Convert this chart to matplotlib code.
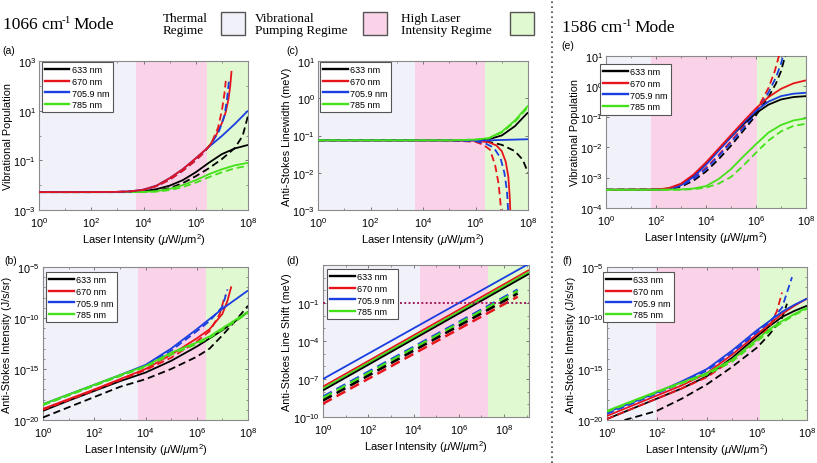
import numpy as np
import matplotlib
matplotlib.use("Agg")
import matplotlib.pyplot as plt
from matplotlib.patches import Rectangle
from matplotlib.lines import Line2D
from matplotlib.ticker import FixedLocator, NullFormatter, LogFormatterSciNotation

plt.rcParams['font.family'] = ['Liberation Sans', 'DejaVu Sans']
plt.rcParams['mathtext.fontset'] = 'custom'
plt.rcParams['mathtext.rm'] = 'Liberation Sans'
plt.rcParams['mathtext.it'] = 'Liberation Sans:italic'
plt.rcParams['mathtext.bf'] = 'Liberation Sans:bold'

# ---------------- data (log10 values) ----------------
WAVELENGTHS = ['633 nm', '670 nm', '705.9 nm', '785 nm']

# (a) vibrational population, 1066 mode
A_X = [0, 2, 3, 3.5, 4, 4.5, 5, 5.5, 6, 6.5, 7, 7.5, 8]
A_633 = [-2.28, -2.28, -2.28, -2.27, -2.24, -2.16, -2.02, -1.8, -1.48, -1.1, -0.75, -0.52, -0.38]
A_633_DX = [0, 2, 3, 3.5, 4, 4.5, 5, 5.5, 6, 6.5, 7, 7.5, 7.8, 8]
A_633_D = [-2.28, -2.28, -2.28, -2.28, -2.27, -2.22, -2.12, -1.92, -1.64, -1.32, -0.95, -0.5, 0.0, 0.8]
A_670_X = [0, 2, 3, 3.5, 4, 4.5, 5, 5.5, 6, 6.5, 6.75, 7.0, 7.15, 7.25, 7.32, 7.37]
A_670 = [-2.28, -2.28, -2.27, -2.25, -2.18, -2.02, -1.72, -1.36, -0.92, -0.45, -0.05, 0.5, 0.95, 1.45, 2.0, 2.6]
A_670_DX = [0, 2, 3, 3.5, 4, 4.5, 5, 5.5, 6, 6.3, 6.6, 6.85, 7.0, 7.1, 7.15]
A_670_D = [-2.28, -2.28, -2.27, -2.25, -2.19, -2.04, -1.78, -1.42, -1.0, -0.7, -0.3, 0.3, 1.0, 1.7, 2.2]
A_706 = [-2.28, -2.28, -2.27, -2.25, -2.18, -2.02, -1.72, -1.36, -0.92, -0.46, -0.02, 0.47, 1.0]
A_706_DX = [0, 2, 3, 3.5, 4, 4.5, 5, 5.5, 6, 6.3, 6.6, 6.9, 7.1, 7.2, 7.27]
A_706_D = [-2.28, -2.28, -2.27, -2.25, -2.19, -2.04, -1.78, -1.42, -1.0, -0.7, -0.32, 0.2, 0.8, 1.5, 2.2]
A_785 = [-2.28, -2.28, -2.28, -2.28, -2.27, -2.24, -2.15, -2.0, -1.8, -1.56, -1.36, -1.2, -1.1]
A_785_D = [-2.28, -2.28, -2.28, -2.28, -2.28, -2.26, -2.2, -2.08, -1.9, -1.68, -1.48, -1.32, -1.22]

# (c) anti-Stokes linewidth
C_X = [0, 5, 5.5, 6, 6.5, 7, 7.5, 8]
C_633 = [-1.13, -1.13, -1.13, -1.12, -1.1, -1.0, -0.75, -0.38]
C_633_DX = [0, 5, 6, 6.5, 7, 7.5, 7.8, 8]
C_633_D = [-1.13, -1.13, -1.14, -1.17, -1.25, -1.42, -1.65, -2.0]
C_670_X = [0, 5, 6, 6.5, 6.8, 7.0, 7.15, 7.25, 7.3, 7.33]
C_670 = [-1.13, -1.13, -1.14, -1.18, -1.27, -1.42, -1.7, -2.1, -2.6, -3.1]
C_670_DX = [0, 5, 6, 6.3, 6.55, 6.75, 6.88, 6.95, 6.98]
C_670_D = [-1.13, -1.13, -1.17, -1.25, -1.38, -1.8, -2.3, -2.8, -3.1]
C_706 = [-1.13, -1.13, -1.13, -1.13, -1.13, -1.12, -1.11, -1.1]
C_706_DX = [0, 5, 6, 6.4, 6.7, 6.95, 7.1, 7.2, 7.25]
C_706_D = [-1.13, -1.13, -1.15, -1.22, -1.33, -1.6, -2.0, -2.5, -3.1]
C_785 = [-1.13, -1.13, -1.12, -1.11, -1.07, -0.9, -0.6, -0.2]
C_785_D = [-1.13, -1.13, -1.12, -1.11, -1.08, -0.92, -0.63, -0.24]

# (e) vibrational population, 1586 mode
E_X = [0, 2, 2.5, 3, 3.5, 4, 4.5, 5, 5.5, 6, 6.5, 7, 7.5, 8]
E_633 = [-3.40, -3.40, -3.36, -3.22, -2.94, -2.54, -2.10, -1.66, -1.24, -0.88, -0.60, -0.43, -0.35, -0.32]
E_670 = [-3.40, -3.39, -3.35, -3.20, -2.90, -2.50, -2.05, -1.60, -1.15, -0.72, -0.35, -0.08, 0.10, 0.20]
E_706 = [-3.40, -3.40, -3.37, -3.25, -2.98, -2.58, -2.12, -1.66, -1.20, -0.80, -0.50, -0.32, -0.24, -0.21]
E_633_DX = [0, 2, 2.5, 3, 3.5, 4, 4.5, 5, 5.5, 6, 6.5, 6.8, 7.0, 7.2]
E_633_D = [-3.40, -3.40, -3.38, -3.30, -3.10, -2.80, -2.40, -1.95, -1.45, -0.95, -0.35, 0.10, 0.50, 1.10]
E_670_DX = [0, 2, 2.5, 3, 3.5, 4, 4.5, 5, 5.5, 6, 6.5, 6.75, 6.95]
E_670_D = [-3.40, -3.39, -3.36, -3.25, -3.02, -2.68, -2.26, -1.80, -1.32, -0.82, -0.05, 0.50, 1.10]
E_706_DX = [0, 2, 2.5, 3, 3.5, 4, 4.5, 5, 5.5, 6, 6.5, 6.8, 7.0, 7.1]
E_706_D = [-3.40, -3.39, -3.37, -3.27, -3.05, -2.72, -2.30, -1.85, -1.37, -0.88, -0.20, 0.30, 0.75, 1.05]
E_X2 = [0, 2, 3, 3.5, 4, 4.5, 5, 5.5, 6, 6.5, 7, 7.5, 8]
E_785 = [-3.40, -3.40, -3.39, -3.36, -3.28, -3.05, -2.72, -2.30, -1.90, -1.52, -1.27, -1.12, -1.05]
E_785_D = [-3.40, -3.40, -3.40, -3.38, -3.33, -3.20, -2.98, -2.60, -2.18, -1.78, -1.48, -1.30, -1.23]

# (b) anti-Stokes intensity, 1066 mode
B_X = [0, 1, 2, 3, 4, 5, 6, 6.5, 7, 7.5, 8]
B_633 = [-19.1, -18.1, -17.15, -16.2, -15.35, -14.2, -12.8, -12.0, -11.2, -10.3, -9.4]
B_633_D = [-19.75, -18.75, -17.75, -16.75, -16.0, -15.0, -13.8, -13.0, -11.7, -10.3, -8.8]
B_670_X = [0, 1, 2, 3, 4, 5, 6, 6.5, 7, 7.2, 7.35]
B_670 = [-18.9, -17.95, -17.0, -16.0, -15.0, -13.6, -12.0, -11.1, -9.6, -8.3, -6.9]
B_670_DX = [0, 1, 2, 3, 4, 5, 6, 6.5, 6.9, 7.1]
B_670_D = [-19.0, -18.05, -17.1, -16.1, -15.1, -13.9, -12.3, -11.3, -9.6, -7.8]
B_706 = [-18.45, -17.5, -16.55, -15.6, -14.6, -13.0, -11.1, -10.1, -9.1, -8.2, -7.3]
B_706_DX = [0, 1, 2, 3, 4, 5, 6, 6.5, 7, 7.2]
B_706_D = [-18.5, -17.55, -16.6, -15.65, -14.7, -13.2, -11.3, -10.3, -8.9, -7.2]
B_785 = [-18.45, -17.5, -16.55, -15.6, -14.7, -13.4, -12.4, -11.8, -11.0, -10.2, -9.4]
B_785_D = [-18.55, -17.6, -16.65, -15.7, -14.8, -13.6, -12.55, -11.95, -11.15, -10.35, -9.5]

# (d) anti-Stokes line shift
D_X = [0, 9.1]
D_X_D = [0, 8.6]
D_633 = [-7.9, 1.3]
D_670 = [-7.6, 1.6]
D_706 = [-7.0, 2.1]
D_785 = [-7.75, 1.45]
D_633_D = [-8.7, -0.25]
D_670_D = [-8.95, -0.5]
D_706_D = [-8.4, 0.05]
D_785_D = [-8.5, -0.05]
D_LIMIT = 0.1

# (f) anti-Stokes intensity, 1586 mode
F_X = [0, 1, 2, 3, 4, 5, 6, 6.5, 7, 7.5, 8]
F_633 = [-19.9, -18.9, -17.9, -16.9, -15.7, -13.9, -11.8, -10.8, -9.9, -9.3, -8.8]
F_670 = [-19.6, -18.6, -17.6, -16.6, -15.4, -13.6, -11.6, -10.6, -9.6, -8.8, -8.1]
F_706 = [-19.25, -18.3, -17.3, -16.2, -15.0, -13.2, -11.2, -10.3, -9.4, -8.7, -8.1]
F_785 = [-19.1, -18.15, -17.2, -16.3, -15.4, -14.1, -12.1, -11.1, -10.3, -9.6, -9.0]
F_633_DX = [0.7, 1, 2, 3, 4, 5, 6, 6.5, 7, 7.2]
F_633_D = [-20.0, -19.8, -19.1, -17.9, -16.5, -14.8, -12.9, -11.6, -10.0, -8.6]
F_670_DX = [0, 1, 2, 3, 4, 5, 6, 6.5, 6.8, 7.0]
F_670_D = [-19.9, -18.9, -17.9, -16.9, -15.8, -14.1, -12.1, -10.9, -9.3, -7.5]
F_706_DX = [0, 1, 2, 3, 4, 5, 6, 6.5, 7, 7.2, 7.4]
F_706_D = [-19.4, -18.4, -17.4, -16.35, -15.15, -13.4, -11.4, -10.4, -9.0, -7.5, -6.0]
F_785_D = [-19.2, -18.25, -17.3, -16.4, -15.55, -14.3, -12.3, -11.3, -10.45, -9.7, -9.1]

# regime boundaries (log10 intensity)
REG_A = [3.73, 6.42]
REG_B = [3.70, 6.36]
REG_C = [3.71, 6.36]
REG_D = [4.3, 7.3]
REG_E = [1.8, 6.05]
REG_F = [1.96, 6.12]

# ---------------- style ----------------
COLORS = ['#000000', '#e8141c', '#1a3ee0', '#44e01a']
C_THERMAL = '#f1f1fa'
C_PUMP = '#fad3e8'
C_HIGH = '#e0f9d0'
LW = 1.3
DASH = (4, 2.2)

W, H = 817, 464
fig = plt.figure(figsize=(8.17, 4.64), dpi=100)


def px_axes(x0, y0, x1, y1):
    return fig.add_axes([x0 / W, 1 - y1 / H, (x1 - x0) / W, (y1 - y0) / H])


def p10(v):
    return 10.0 ** np.asarray(v, dtype=float)


def setup(ax, xmax_log, ylim_log, yticks_log, reg, ylabel):
    ax.set_xscale('log')
    ax.set_yscale('log')
    ax.set_xlim(1, 10 ** xmax_log)
    ax.set_ylim(10.0 ** ylim_log[0], 10.0 ** ylim_log[1])
    ax.axvspan(1, 10 ** reg[0], color=C_THERMAL, lw=0, zorder=0)
    ax.axvspan(10 ** reg[0], 10 ** reg[1], color=C_PUMP, lw=0, zorder=0)
    ax.axvspan(10 ** reg[1], 10 ** xmax_log, color=C_HIGH, lw=0, zorder=0)
    ax.xaxis.set_major_locator(FixedLocator([1, 1e2, 1e4, 1e6, 1e8]))
    ax.xaxis.set_minor_locator(FixedLocator([10.0 ** k for k in range(0, 10)]))
    ax.yaxis.set_major_locator(FixedLocator([10.0 ** k for k in yticks_log]))
    ax.yaxis.set_minor_locator(FixedLocator([10.0 ** k for k in range(ylim_log[0], ylim_log[1] + 1)]))
    ax.xaxis.set_major_formatter(LogFormatterSciNotation())
    ax.yaxis.set_major_formatter(LogFormatterSciNotation())
    ax.xaxis.set_minor_formatter(NullFormatter())
    ax.yaxis.set_minor_formatter(NullFormatter())
    ax.tick_params(which='both', direction='in', top=True, right=True,
                   labelsize=7.8, color='#666666')
    ax.tick_params(axis='x', which='major', pad=3.5)
    ax.tick_params(axis='y', which='major', pad=2.2)
    ax.tick_params(which='major', length=2.5, width=0.6)
    ax.tick_params(which='minor', length=1.5, width=0.5)
    for s in ax.spines.values():
        s.set_color('#8a8a8a')
        s.set_linewidth(0.8)
    ax.set_xlabel(r'Laser Intensity ($\mu$W/$\mu$m$^2$)', fontsize=8, labelpad=2)
    ax.set_ylabel(ylabel, fontsize=7.8, labelpad=0.5)


def curve(ax, x, y, col, dashed=False, lw=LW):
    kw = dict(color=col, lw=lw, zorder=3, solid_capstyle='butt')
    if dashed:
        ln, = ax.plot(p10(x), p10(y), dashes=DASH, **kw)
    else:
        ln, = ax.plot(p10(x), p10(y), **kw)
    return ln


def legend(ax, bx, by):
    handles = [Line2D([], [], color=c, lw=1.7) for c in COLORS]
    lg = ax.legend(handles, WAVELENGTHS, loc='upper left', bbox_to_anchor=(bx, by),
                   borderaxespad=0, fontsize=6.5, frameon=True, fancybox=False,
                   handlelength=2.7, handletextpad=0.3, labelspacing=0.3,
                   borderpad=0.35)
    fr = lg.get_frame()
    fr.set_edgecolor('#555555')
    fr.set_linewidth(0.8)
    fr.set_facecolor('white')
    fr.set_alpha(1)
    lg.set_zorder(10)


# ---- (a)
axa = px_axes(39, 62, 248, 211)
setup(axa, 8, (-3, 3), [-3, -1, 1, 3], REG_A, 'Vibrational Population')
curve(axa, A_633_DX, A_633_D, COLORS[0], True)
curve(axa, A_X, A_633, COLORS[0])
curve(axa, A_X, A_785_D, COLORS[3], True)
curve(axa, A_X, A_785, COLORS[3])
curve(axa, A_X, A_706, COLORS[2])
curve(axa, A_670_X, A_670, COLORS[1])
curve(axa, A_706_DX, A_706_D, COLORS[2], True)
curve(axa, A_670_DX, A_670_D, COLORS[1], True)
legend(axa, 0.014, 0.993)

# ---- (c)
axc = px_axes(318, 62, 528, 211)
setup(axc, 8, (-3, 1), [-3, -2, -1, 0, 1], REG_C, 'Anti-Stokes Linewidth (meV)')
curve(axc, C_633_DX, C_633_D, COLORS[0], True)
curve(axc, C_X, C_633, COLORS[0])
curve(axc, C_670_X, C_670, COLORS[1])
curve(axc, C_670_DX, C_670_D, COLORS[1], True)
curve(axc, C_706_DX, C_706_D, COLORS[2], True)
curve(axc, C_X, C_706, COLORS[2])
curve(axc, C_X, C_785_D, COLORS[3], True)
curve(axc, C_X, C_785, COLORS[3])
legend(axc, 0.01, 0.993)

# ---- (e)
axe = px_axes(606, 57, 806, 209)
setup(axe, 8, (-4, 1), [-4, -3, -2, -1, 0, 1], REG_E, 'Vibrational Population')
curve(axe, E_633_DX, E_633_D, COLORS[0], True)
curve(axe, E_670_DX, E_670_D, COLORS[1], True)
curve(axe, E_706_DX, E_706_D, COLORS[2], True)
curve(axe, E_X, E_633, COLORS[0])
curve(axe, E_X, E_706, COLORS[2])
curve(axe, E_X, E_670, COLORS[1])
curve(axe, E_X2, E_785_D, COLORS[3], True)
curve(axe, E_X2, E_785, COLORS[3])
legend(axe, -0.03, 0.947)

# ---- (b)
axb = px_axes(43, 268, 248, 421)
setup(axb, 8, (-20, -5), [-20, -15, -10, -5], REG_B, 'Anti-Stokes Intensity (J/s/sr)')
curve(axb, B_X, B_633_D, COLORS[0], True)
curve(axb, B_X, B_633, COLORS[0])
curve(axb, B_670_DX, B_670_D, COLORS[1], True)
curve(axb, B_670_X, B_670, COLORS[1])
curve(axb, B_X, B_706, COLORS[2])
curve(axb, B_706_DX, B_706_D, COLORS[2], True)
curve(axb, B_X, B_785_D, COLORS[3], True)
curve(axb, B_X, B_785, COLORS[3])
legend(axb, 0.015, 0.967)

# ---- (d)
axd = px_axes(323, 266, 529, 418)
setup(axd, 9.1, (-10, 2), [-10, -7, -4, -1], REG_D, 'Anti-Stokes Line Shift (meV)')
curve(axd, D_X, D_706, COLORS[2])
curve(axd, D_X, D_670, COLORS[1])
curve(axd, D_X, D_785, COLORS[3])
curve(axd, D_X, D_633, COLORS[0])
curve(axd, D_X_D, D_706_D, COLORS[2], True, lw=1.8)
curve(axd, D_X_D, D_785_D, COLORS[3], True, lw=1.8)
curve(axd, D_X_D, D_633_D, COLORS[0], True, lw=1.8)
curve(axd, D_X_D, D_670_D, COLORS[1], True, lw=1.8)
axd.axhline(D_LIMIT, color='#a0205c', lw=1.4, ls=(0, (1, 1.2)), zorder=4)
legend(axd, 0.02, 0.974)

# ---- (f)
axf = px_axes(607, 268, 807, 421)
setup(axf, 8, (-20, -5), [-20, -15, -10, -5], REG_F, 'Anti-Stokes Intensity (J/s/sr)')
curve(axf, F_633_DX, F_633_D, COLORS[0], True)
curve(axf, F_X, F_633, COLORS[0])
curve(axf, F_670_DX, F_670_D, COLORS[1], True)
curve(axf, F_X, F_670, COLORS[1])
curve(axf, F_706_DX, F_706_D, COLORS[2], True)
curve(axf, F_X, F_706, COLORS[2])
curve(axf, F_X, F_785_D, COLORS[3], True)
curve(axf, F_X, F_785, COLORS[3])
legend(axf, -0.02, 0.967)

# ---------------- figure annotations ----------------
def ftext(x, y, s, **kw):
    fig.text(x / W, 1 - y / H, s, **kw)

serif = dict(family=['Liberation Serif', 'DejaVu Serif'])
ftext(3, 29, '1066 cm', fontsize=12.5, va='baseline', ha='left', **serif)
ftext(62, 23, '-1', fontsize=8, va='baseline', ha='left', **serif)
ftext(73, 29, 'Mode', fontsize=12.5, va='baseline', ha='left', **serif)
ftext(562, 32, '1586 cm', fontsize=12.5, va='baseline', ha='left', **serif)
ftext(623, 26, '-1', fontsize=8, va='baseline', ha='left', **serif)
ftext(634, 32, 'Mode', fontsize=12.5, va='baseline', ha='left', **serif)

ftext(163, 25, 'Thermal\nRegime', fontsize=9.5, va='center', ha='left', linespacing=1.05, **serif)
ftext(255, 25, 'Vibrational\nPumping Regime', fontsize=9.5, va='center', ha='left', linespacing=1.05, **serif)
ftext(401, 25, 'High Laser\nIntensity Regime', fontsize=9.5, va='center', ha='left', linespacing=1.05, **serif)
for (x0, col) in [(221, C_THERMAL), (363, C_PUMP), (510, C_HIGH)]:
    fig.patches.append(Rectangle((x0 / W, 1 - 36 / H), 24 / W, 23 / H, transform=fig.transFigure,
                                 facecolor=col, edgecolor='#555555', lw=1.0))

for (x, y, s) in [(2, 51, '(a)'), (286, 51, '(c)'), (561, 46, '(e)'),
                  (4, 261, '(b)'), (286, 261, '(d)'), (562, 261, '(f)')]:
    ftext(x, y, s, fontsize=7.5, va='center', ha='left')

fig.add_artist(Line2D([552 / W, 552 / W], [0, 1], transform=fig.transFigure,
                      color='#444444', lw=1.2, ls=(0, (1, 2))))

fig.savefig('out.png', dpi=100)
